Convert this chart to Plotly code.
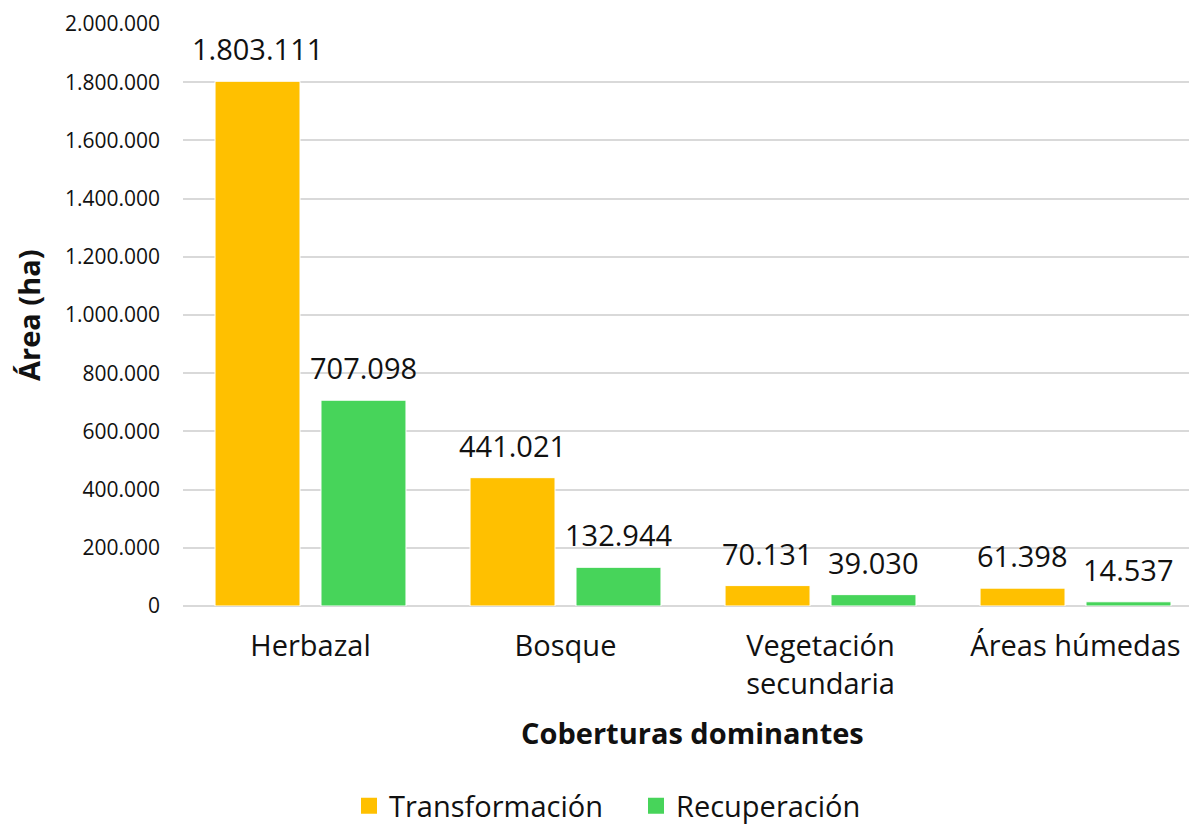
import plotly.graph_objects as go

# Dominant land covers and their area (ha) by process
categorias = ["Herbazal", "Bosque", "Vegetación<br>secundaria", "Áreas húmedas"]
transformacion = [1803111, 441021, 70131, 61398]
recuperacion = [707098, 132944, 39030, 14537]
series = [("Transformación", transformacion, "#FFC000"),
          ("Recuperación", recuperacion, "#47D45A")]

y_ticks = [0, 200000, 400000, 600000, 800000, 1000000, 1200000,
           1400000, 1600000, 1800000, 2000000]

FONT = "Open Sans"
TXT = "#111111"

# plot-area geometry in pixels, used to place the axis titles
L, R, T, B = 183, 1189, 24, 606
W, H = R - L, B - T

fig = go.Figure()
for nombre, valores, color in series:
    fig.add_trace(go.Bar(
        x=categorias, y=valores, name=nombre, showlegend=False,
        marker=dict(color=color, line=dict(color="white", width=1)),
    ))
# legend entries with larger square swatches
for nombre, valores, color in series:
    fig.add_trace(go.Scatter(
        x=[None], y=[None], mode="markers", name=nombre,
        marker=dict(symbol="square", size=17, color=color),
    ))

# value labels above each bar
shift = 53
for (nombre, valores, color), dx in zip(series, (-shift, shift)):
    for cat, v in zip(categorias, valores):
        fig.add_annotation(
            x=cat, y=v, xref="x", yref="y", xshift=dx, yshift=11,
            text=f"{v:,}".replace(",", "."), showarrow=False,
            yanchor="bottom", xanchor="center",
            font=dict(family=FONT, size=29, color=TXT),
        )

# axis titles
fig.add_annotation(
    text="<b>Coberturas dominantes</b>",
    x=(692 - L) / W, y=(B - 732) / H,
    xref="paper", yref="paper", showarrow=False,
    xanchor="center", yanchor="middle",
    font=dict(family=FONT, size=29, color=TXT),
)
fig.add_annotation(
    text="<b>Área (ha)</b>",
    x=(28 - L) / W, y=(B - 315) / H,
    xref="paper", yref="paper", showarrow=False, textangle=-90,
    xanchor="center", yanchor="middle",
    font=dict(family=FONT, size=29, color=TXT),
)

fig.update_layout(
    width=1189, height=824,
    margin=dict(l=L, r=1189 - R, t=T, b=824 - B),
    paper_bgcolor="white", plot_bgcolor="white",
    separators=",.",
    barmode="group", bargap=0.169, bargroupgap=0.198,
    font=dict(family=FONT, color=TXT),
    legend=dict(
        orientation="h", xref="container", yref="container",
        x=636 / 1189, y=1 - 806 / 824, xanchor="center", yanchor="middle",
        font=dict(family=FONT, size=29, color=TXT),
        itemsizing="trace", entrywidth=242, traceorder="normal",
    ),
    showlegend=True,
)
fig.update_xaxes(
    range=[-0.5, 3.445], showgrid=False, showline=False, zeroline=False,
    ticks="", tickfont=dict(family=FONT, size=29, color=TXT),
    ticklabelstandoff=20,
)
fig.update_yaxes(
    range=[0, 2000000], tickvals=y_ticks, tickformat=",",
    showgrid=True, gridcolor="#D9D9D9", gridwidth=1.5,
    zeroline=True, zerolinecolor="#D9D9D9", zerolinewidth=1.5,
    showline=False, ticks="", ticklabelstandoff=22,
    tickfont=dict(family=FONT, size=21, color=TXT),
)

fig.write_html("out.html")
